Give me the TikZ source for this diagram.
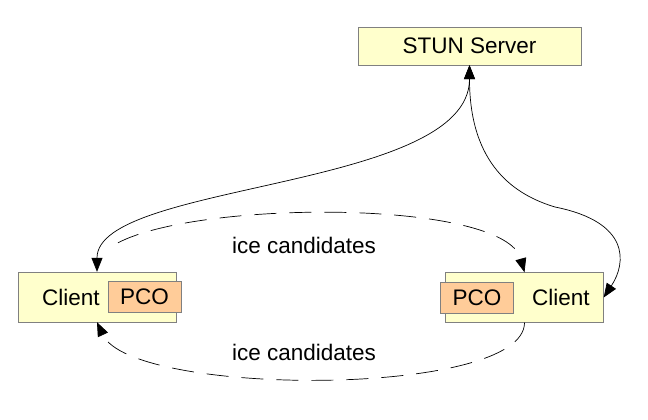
\documentclass[tikz,border=0pt]{standalone}
\usepackage{fontspec}
\setmainfont{Liberation Sans}
\usetikzlibrary{positioning}
\usetikzlibrary{arrows.meta}
\definecolor{boxfill}{RGB}{255,255,204}
\definecolor{pcofill}{RGB}{255,204,153}
\definecolor{boxline}{RGB}{128,128,128}

\begin{document}
\begin{tikzpicture}[x=1pt, y=-1pt,
		font=\fontsize{22.5}{27}\selectfont,
		server/.style={draw=boxline, fill=boxfill, minimum width=223pt, minimum height=38pt, inner sep=0pt},
		client/.style={draw=boxline, fill=boxfill, minimum width=158pt, minimum height=50pt, inner sep=0pt},
		pco/.style={draw=boxline, fill=pcofill, minimum width=73pt, minimum height=31pt, inner sep=0pt},
		link/.style={line width=0.7pt, {Triangle[length=14pt,width=11pt]}-{Triangle[length=14pt,width=11pt]}},
		ice/.style={line width=0.7pt, dash pattern=on 22pt off 13pt, -{Triangle[length=14pt,width=11pt]}}
	]
	
	\useasboundingbox (0,0) rectangle (648,420);
	
	\node[server] (stun) at (469.5,46) {STUN Server};
	\node[client, label={[xshift=-26pt]center:Client}] (lc) at (97,297) {};
	\node[client, label={[xshift=36.5pt]center:Client}] (rc) at (524.5,297.5) {};
	\node[pco, left=-5pt of lc.east] (lpco) {PCO};
	\node[pco, right=-5pt of rc.west] (rpco) {PCO};
	
	% server links
	\coordinate (bend) at (555,207);
	\draw[link] (stun.south) .. controls +(0,125) and +(0,-90) .. (lc.north);
	\draw[link] (stun.south) .. controls +(0,100) and +(-40,-12) .. (bend)
		.. controls +(75,15) and +(23,-35) .. (rc.east);
	
	% candidates exchange
	\coordinate (ice1) at ([shift={(21,-29)}]lc.north);
	\draw[ice] (ice1) .. controls +(82,-43) and +(-20,-73) .. (rc.north);
	\draw[ice] (rc.south) .. controls +(0,75) and +(35,75) .. (lc.south);
	
	\node (icetop) at (304,245) {ice candidates};
	\node (icebot) at (304,352) {ice candidates};
\end{tikzpicture}
\end{document}
